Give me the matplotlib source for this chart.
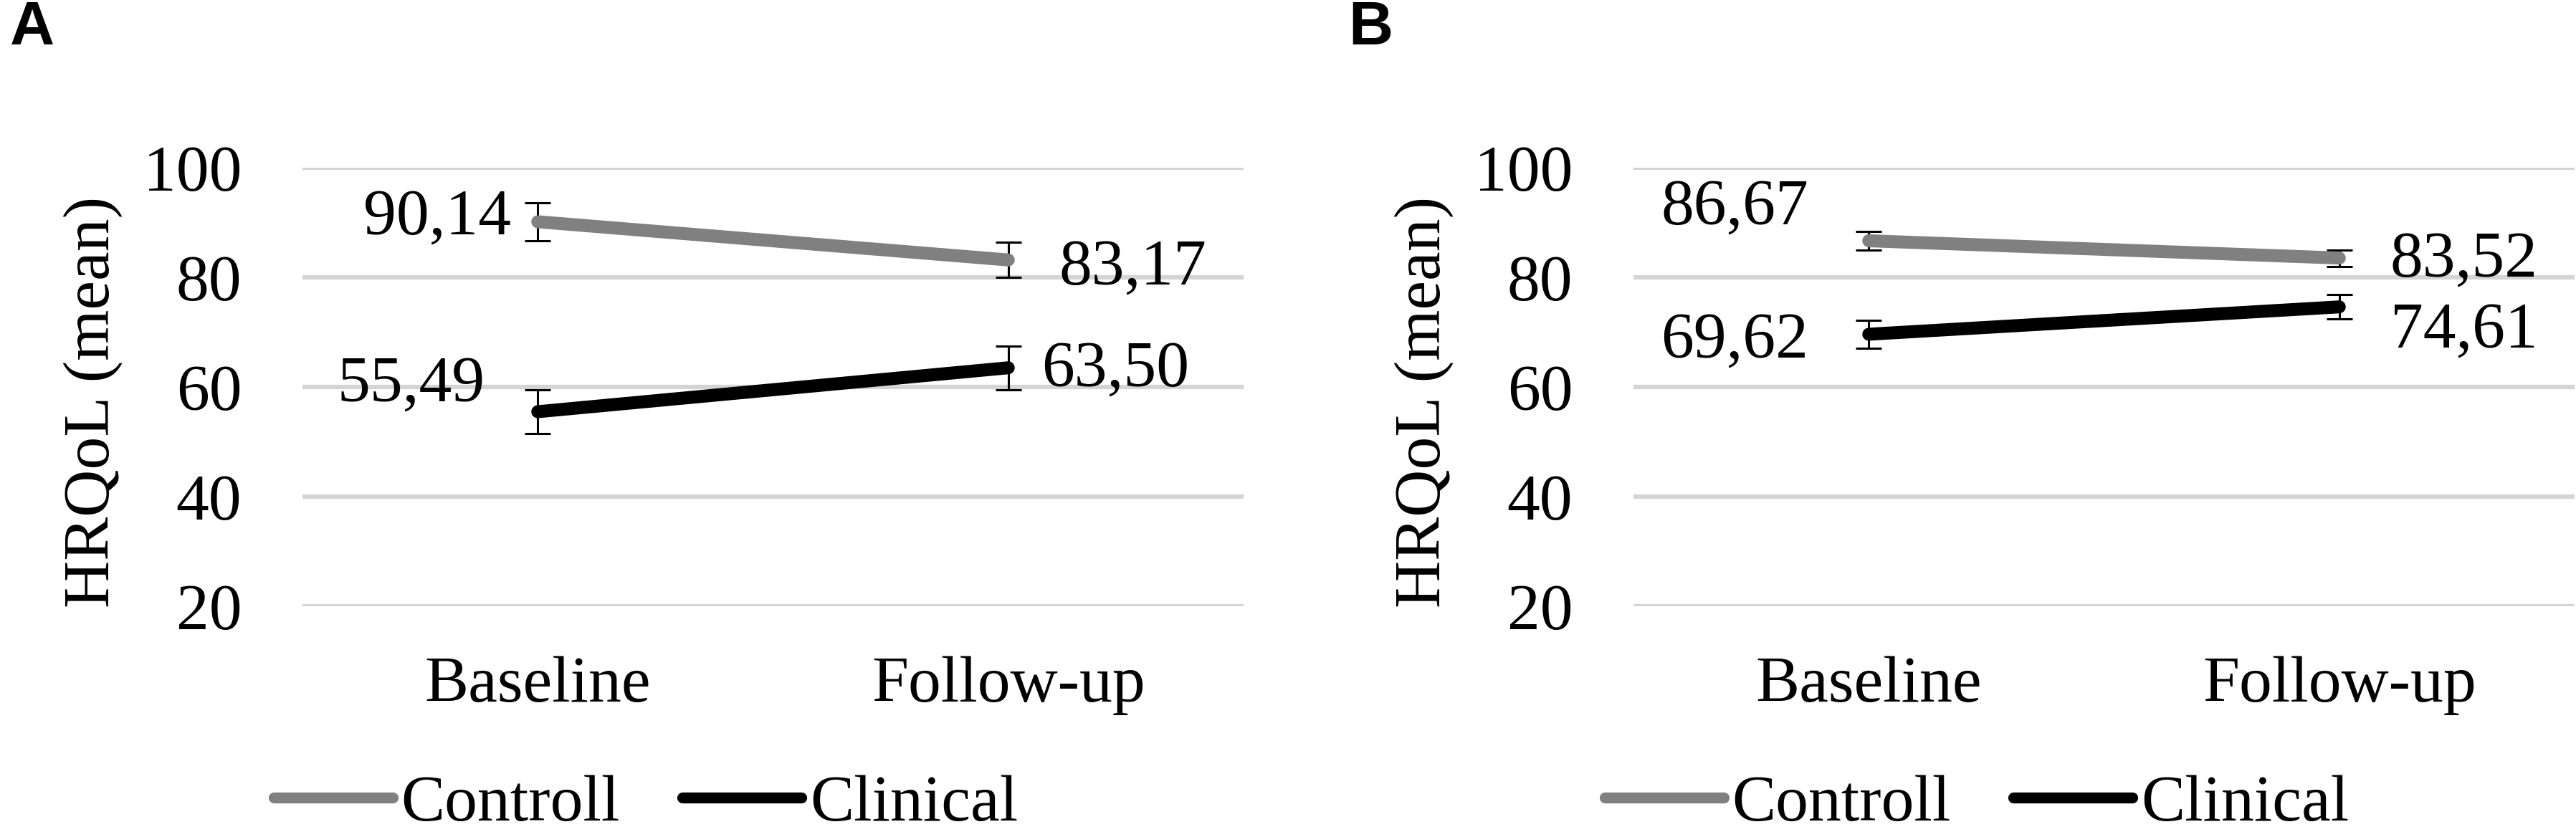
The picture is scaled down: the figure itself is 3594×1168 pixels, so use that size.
import numpy as np
import matplotlib

matplotlib.use("Agg")
import matplotlib.pyplot as plt
from matplotlib.lines import Line2D

# data
timepoints = ["Baseline", "Follow-up"]
groups = ["Controll", "Clinical"]

control_a = [90.14, 83.17]
clinical_a = [55.49, 63.50]
control_a_err = [3.5, 3.2]
clinical_a_err = [4.0, 4.0]

control_b = [86.67, 83.52]
clinical_b = [69.62, 74.61]
control_b_err = [1.75, 1.5]
clinical_b_err = [2.5, 2.2]

yticks = [20, 40, 60, 80, 100]

W, H = 3594, 1168
DPI = 100
FS = 66
GRAY = "#808080"
GRID = "#d4d4d4"

plt.rcParams["font.family"] = ["Liberation Serif", "DejaVu Serif"]


def fmt(v):
    return f"{v:.2f}".replace(".", ",")


def draw_panel(fig, left_px, letter, letter_x, series, label_offsets):
    ax = fig.add_axes([left_px / W, 1 - 846 / H, 1313 / W, 612 / H])
    x = np.arange(len(timepoints))
    for gy in yticks:
        ax.axhline(gy, color=GRID, lw=4.5, zorder=0)
    for (vals, errs, color), offs in zip(series, label_offsets):
        ax.errorbar(x, vals, yerr=errs, fmt="none", ecolor="black",
                    elinewidth=2.2, capsize=13, capthick=2.2, zorder=2)
        ax.plot(x, vals, color=color, lw=13, solid_capstyle="round", zorder=3)
        for xi, v, (dx, dy) in zip(x, vals, offs):
            ax.annotate(fmt(v), (xi, v), xytext=(dx * 0.72, dy * 0.72),
                        textcoords="offset points", fontsize=FS,
                        ha="right" if dx < 0 else "left", va="center")
    ax.set_xlim(-0.5, 1.5)
    ax.set_ylim(20, 100)
    ax.set_xticks(x)
    ax.set_xticklabels(timepoints, fontsize=FS)
    ax.set_yticks(yticks)
    ax.set_yticklabels([str(t) for t in yticks], fontsize=FS)
    ax.tick_params(axis="y", length=0, pad=61)
    ax.tick_params(axis="x", length=0, pad=50)
    for s in ax.spines.values():
        s.set_visible(False)

    fig.text((left_px - 292) / W, 1 - 561 / H, "HRQoL (mean)", rotation=90,
             ha="center", va="center", fontsize=FS)
    fig.text(letter_x / W, 1 - 62 / H, letter, fontsize=62, fontweight="bold",
             family="Liberation Sans", ha="left", va="baseline")

    handles = [Line2D([], [], color=c, lw=11, solid_capstyle="round")
               for (_, _, c) in series]
    fig.legend(handles, groups, loc="center", ncol=2, frameon=False,
               fontsize=FS, handlelength=1.81, handletextpad=0.13,
               columnspacing=0.95, borderpad=0, borderaxespad=0,
               bbox_to_anchor=((left_px + 479) / W, 1 - 1122 / H),
               bbox_transform=fig.transFigure)
    return ax


fig = plt.figure(figsize=(W / DPI, H / DPI), dpi=DPI)

draw_panel(fig, 422, "A", 14,
           [(control_a, control_a_err, GRAY), (clinical_a, clinical_a_err, "black")],
           [[(-37, 5), (71, -12)], [(-74, 37), (46, -3)]])
draw_panel(fig, 2279, "B", 1881,
           [(control_b, control_b_err, GRAY), (clinical_b, clinical_b_err, "black")],
           [[(-84, 46), (71, -3)], [(-84, -10), (71, -34)]])

fig.savefig("out.png", dpi=DPI)
